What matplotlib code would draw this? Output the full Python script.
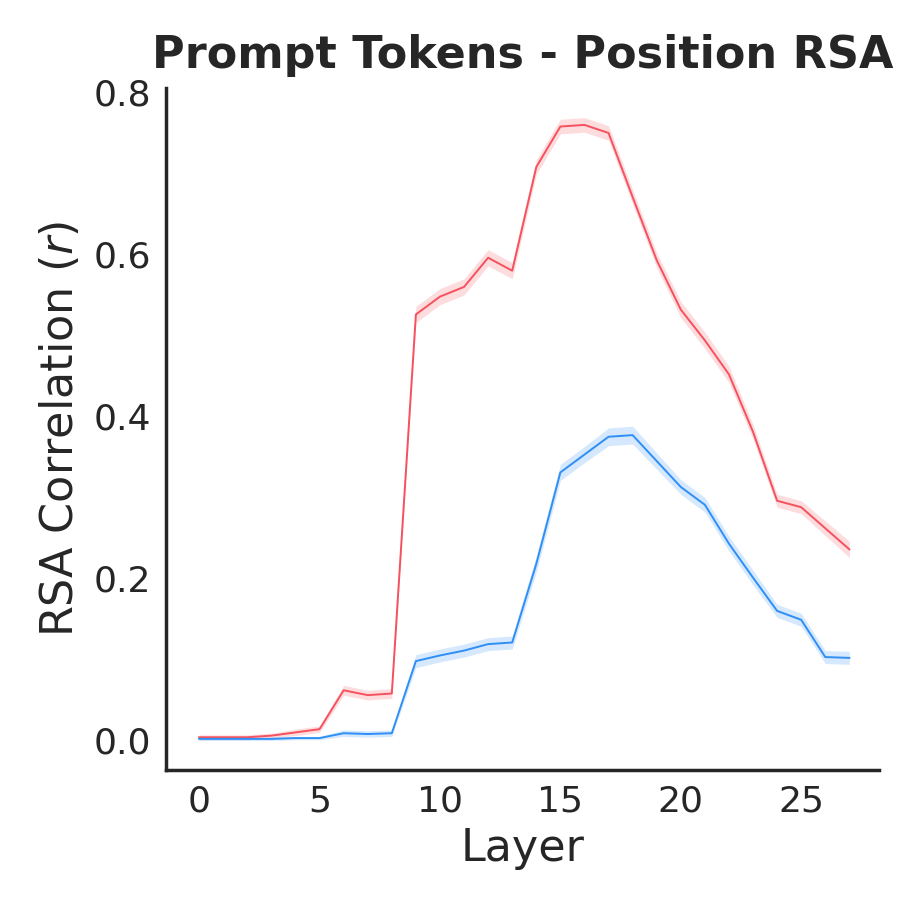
import matplotlib
matplotlib.use("Agg")
import matplotlib.pyplot as plt
import numpy as np

layers = list(range(28))
red_mean = [0.003, 0.003, 0.003, 0.005, 0.009, 0.013, 0.061, 0.055, 0.057, 0.525,
            0.547, 0.559, 0.595, 0.579, 0.707, 0.757, 0.759, 0.749, 0.670, 0.592,
            0.531, 0.493, 0.451, 0.380, 0.295, 0.287, 0.261, 0.235]
red_err = [0.003, 0.003, 0.003, 0.003, 0.004, 0.004, 0.006, 0.006, 0.006, 0.010,
           0.010, 0.010, 0.010, 0.010, 0.009, 0.009, 0.009, 0.009, 0.009, 0.009,
           0.010, 0.010, 0.010, 0.009, 0.008, 0.008, 0.009, 0.010]
blue_mean = [0.001, 0.001, 0.001, 0.001, 0.002, 0.002, 0.008, 0.007, 0.008, 0.097,
             0.104, 0.110, 0.118, 0.120, 0.217, 0.330, 0.352, 0.374, 0.376, 0.344,
             0.312, 0.290, 0.242, 0.200, 0.159, 0.148, 0.102, 0.101]
blue_err = [0.002, 0.002, 0.002, 0.002, 0.002, 0.002, 0.004, 0.004, 0.004, 0.008,
            0.008, 0.008, 0.008, 0.008, 0.010, 0.010, 0.010, 0.011, 0.011, 0.010,
            0.009, 0.009, 0.009, 0.009, 0.008, 0.008, 0.008, 0.008]

red_color = "#f5515e"
blue_color = "#2f8ff5"
text_color = "#262626"

fig = plt.figure(figsize=(9.13, 9.13), dpi=100)
ax = fig.add_axes([0.182, 0.157, 0.781, 0.747])

x = np.array(layers)
for mean, err, col in [(red_mean, red_err, red_color), (blue_mean, blue_err, blue_color)]:
    m = np.array(mean)
    e = np.array(err)
    ax.fill_between(x, m - e, m + e, color=col, alpha=0.2, linewidth=0)
    ax.plot(x, m, color=col, linewidth=1.4)

ax.set_xlim(-1.37, 28.24)
ax.set_ylim(-0.037, 0.805)
ax.set_xticks([0, 5, 10, 15, 20, 25])
ax.set_yticks([0.0, 0.2, 0.4, 0.6, 0.8])
ax.set_yticklabels(["0.0", "0.2", "0.4", "0.6", "0.8"])
ax.tick_params(axis="both", length=0, labelsize=26, labelcolor=text_color, pad=11)

for s in ["top", "right"]:
    ax.spines[s].set_visible(False)
for s in ["left", "bottom"]:
    ax.spines[s].set_linewidth(2.5)
    ax.spines[s].set_color(text_color)

ax.set_xlabel("Layer", fontsize=32, color=text_color, labelpad=6)
ax.set_ylabel("RSA Correlation ($\\it{r}$)", fontsize=32, color=text_color, labelpad=8)
ax.set_title("Prompt Tokens - Position RSA", fontsize=32, fontweight="bold",
             color=text_color, pad=14)

fig.savefig("out.png", dpi=100)
